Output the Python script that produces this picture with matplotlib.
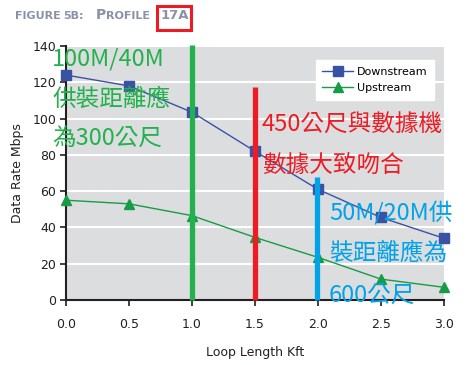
import matplotlib
matplotlib.use("Agg")
import matplotlib.pyplot as plt
from matplotlib.patches import Rectangle

loop_kft = [0.0, 0.5, 1.0, 1.5, 2.0, 2.5, 3.0]
downstream = [124, 118, 103.5, 82, 61, 45.5, 34]
upstream = [55, 53, 46.5, 34.5, 23.5, 11.5, 7]
xticks = [0.0, 0.5, 1.0, 1.5, 2.0, 2.5, 3.0]
yticks = [0, 20, 40, 60, 80, 100, 120, 140]

# marker bars: x position, top value
bar_x = [1.0, 1.5, 1.99]
bar_top = [140.5, 117.5, 68]
bar_colors = ["#22b14c", "#ed1c24", "#00a2e8"]

green_lines = ["100M/40M", "供裝距離應", "為300公尺"]
red_lines = ["450公尺與數據機", "數據大致吻合"]
blue_lines = ["50M/20M供", "裝距離應為", "600公尺"]

W, H = 470, 365
fig = plt.figure(figsize=(W / 100, H / 100), dpi=100)
fig.patch.set_facecolor("white")
ax = fig.add_axes([66 / W, 1 - 300 / H, (444 - 66) / W, (300 - 46) / H])
ax.set_facecolor("#dcdddf")
ax.set_xlim(0, 3.0)
ax.set_ylim(0, 140)
ax.set_xticks(xticks)
ax.set_xticklabels([f"{v:.1f}" for v in xticks])
ax.set_yticks(yticks)
for y in yticks[1:]:
    ax.axhline(y, color="white", lw=1.5, zorder=1)
for s in ["top", "right"]:
    ax.spines[s].set_visible(False)
for s in ["left", "bottom"]:
    ax.spines[s].set_linewidth(1.5)
    ax.spines[s].set_color("#231f20")
ax.tick_params(direction="out", length=4, width=1.2, labelsize=9, colors="#231f20", pad=3)
ax.tick_params(axis="x", pad=9)
ax.set_ylabel("Data Rate Mbps", fontsize=9, color="#231f20", labelpad=6)
ax.set_xlabel("Loop Length Kft", fontsize=9, color="#231f20", labelpad=11)

ax.plot(loop_kft, downstream, color="#3953a4", lw=1, marker="s", ms=7,
        label="Downstream", clip_on=False, zorder=4)
ax.plot(loop_kft, upstream, color="#169c47", lw=1, marker="^", ms=7,
        label="Upstream", clip_on=False, zorder=4)

for x, t, c in zip(bar_x, bar_top, bar_colors):
    ax.plot([x, x], [0, t], color=c, lw=3.8, solid_capstyle="butt",
            clip_on=False, zorder=5)

leg = ax.legend(loc="upper right", bbox_to_anchor=(0.988, 0.967), fontsize=8,
                frameon=True, fancybox=False, edgecolor="white", framealpha=1,
                handlelength=2.8, borderpad=0.6, labelspacing=0.6, handletextpad=0.3)
leg.set_zorder(3)

cjk = ["Noto Sans CJK TC", "DejaVu Sans"]

def put(lines, x, ys, color):
    for s, y in zip(lines, ys):
        fig.text(x / W, 1 - y / H, s, color=color, fontsize=17, family=cjk,
                 ha="left", va="center", zorder=10)

put(green_lines, 52, [59, 99, 138], "#22b14c")
put(red_lines, 262, [125, 165], "#ed1c24")
put(blue_lines, 329, [213, 253, 295], "#00a2e8")

# title (small caps imitation)
tc = "#8c91a7"
tfam = "DejaVu Sans"
def tt(x, y, s, size):
    fig.text(x / W, 1 - y / H, s, fontsize=size, color=tc, weight="bold",
             family=tfam, va="baseline", ha="left")
tt(15, 19, "FIGURE", 8)
tt(63, 19, "5B:", 8)
tt(96, 19, "P", 10)
tt(106, 19, "ROFILE", 8)
tt(161, 19, "17A", 9.5)
fig.patches.append(Rectangle((156.5 / W, 1 - 30 / H), 34.5 / W, 24.5 / H, fill=False,
                             edgecolor="#ed1c24", lw=2.2, transform=fig.transFigure))

fig.savefig("out.png", dpi=100)
